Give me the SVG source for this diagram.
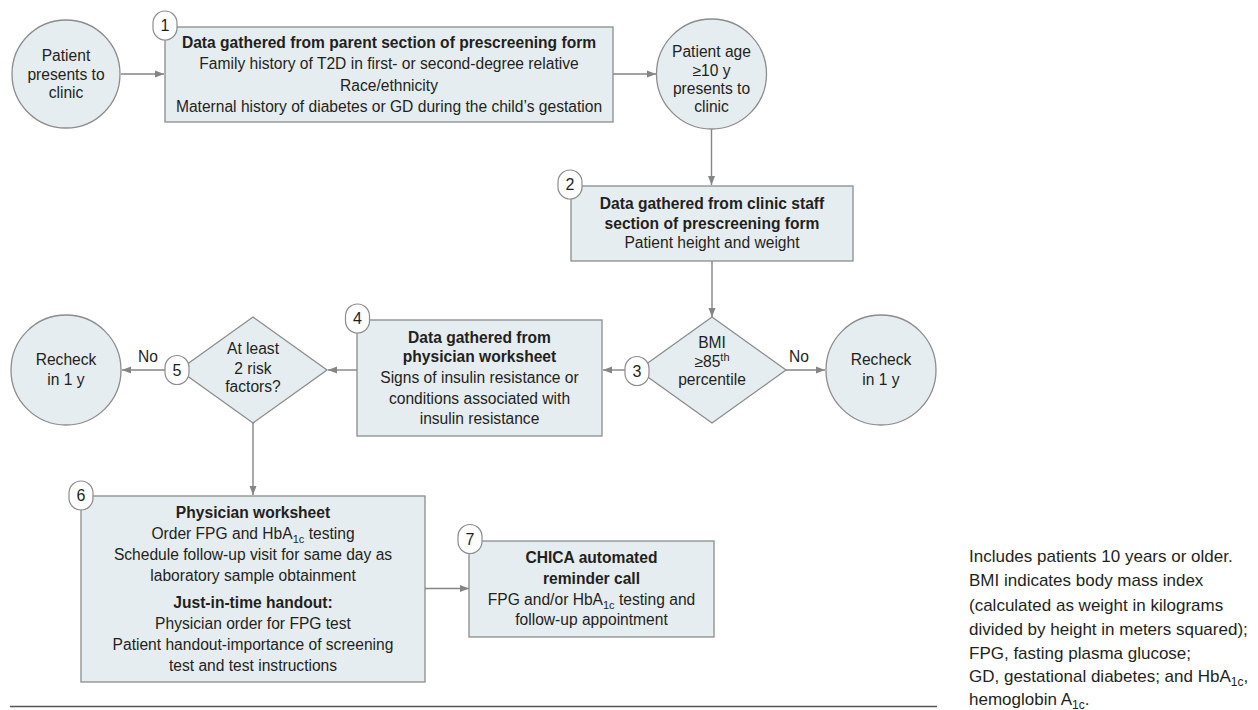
<svg xmlns="http://www.w3.org/2000/svg" width="1258" height="710" viewBox="0 0 1258 710">
<style>
text{font-family:"Liberation Sans",Arial,sans-serif;fill:#231f20;font-size:15.6px}
.c{text-anchor:middle}
.b{font-weight:bold}
.box{fill:#e6edf1;stroke:#8c8c8c;stroke-width:1.3}
.badge{fill:#fff;stroke:#8c8c8c;stroke-width:1.2}
.num{font-size:16px;text-anchor:middle}
.con{stroke:#858585;stroke-width:1.4;fill:none}
.cap{font-size:17px}
</style>
<defs>
<marker id="ah" markerUnits="userSpaceOnUse" markerWidth="10" markerHeight="10" viewBox="0 0 10 10" refX="9" refY="5" orient="auto">
<path d="M0,1.5 L9,5 L0,8.5 Z" fill="#858585"/>
</marker>
</defs>

<g id="connectors">
<line class="con" x1="121" y1="74" x2="164" y2="74" marker-end="url(#ah)"/>
<line class="con" x1="613" y1="74" x2="656" y2="74" marker-end="url(#ah)"/>
<line class="con" x1="711.5" y1="129" x2="711.5" y2="185" marker-end="url(#ah)"/>
<line class="con" x1="712" y1="261" x2="712" y2="317" marker-end="url(#ah)"/>
<line class="con" x1="625" y1="370" x2="603" y2="370" marker-end="url(#ah)"/>
<line class="con" x1="786" y1="370" x2="825" y2="370" marker-end="url(#ah)"/>
<line class="con" x1="357" y1="370" x2="328" y2="370" marker-end="url(#ah)"/>
<line class="con" x1="165" y1="370" x2="122" y2="370" marker-end="url(#ah)"/>
<line class="con" x1="253" y1="423" x2="253" y2="495" marker-end="url(#ah)"/>
<line class="con" x1="425" y1="588.5" x2="469" y2="588.5" marker-end="url(#ah)"/>
<text x="799" y="362" class="c">No</text>
<text x="148" y="362" class="c">No</text>
</g>

<g id="start">
<circle class="box" cx="66" cy="74" r="54"/>
<text class="c" x="66" y="61">Patient</text>
<text class="c" x="66" y="80">presents to</text>
<text class="c" x="66" y="98">clinic</text>
</g>

<g id="node1">
<rect class="box" x="165" y="27" width="448" height="95"/>
<text class="c b" x="389" y="48">Data gathered from parent section of prescreening form</text>
<text class="c" x="389" y="69">Family history of T2D in first- or second-degree relative</text>
<text class="c" x="389" y="91">Race/ethnicity</text>
<text class="c" x="389" y="112">Maternal history of diabetes or GD during the child’s gestation</text>
<rect class="badge" x="153" y="11" width="24" height="29" rx="12"/>
<text class="num" x="165" y="31">1</text>
</g>

<g id="age">
<circle class="box" cx="711.5" cy="74" r="55"/>
<text class="c" x="711.5" y="57">Patient age</text>
<text class="c" x="711.5" y="76">≥10 y</text>
<text class="c" x="711.5" y="94">presents to</text>
<text class="c" x="711.5" y="112">clinic</text>
</g>

<g id="node2">
<rect class="box" x="571" y="186" width="282" height="75"/>
<text class="c b" x="712" y="209">Data gathered from clinic staff</text>
<text class="c b" x="712" y="229">section of prescreening form</text>
<text class="c" x="712" y="248">Patient height and weight</text>
<rect class="badge" x="558" y="170" width="24" height="29" rx="12"/>
<text class="num" x="570" y="190">2</text>
</g>

<g id="node3">
<polygon class="box" points="712,317 786,370 712,423 638,370"/>
<text class="c" x="712" y="348">BMI</text>
<text class="c" x="712" y="367">≥85<tspan dy="-6" font-size="11">th</tspan></text>
<text class="c" x="712" y="385">percentile</text>
<rect class="badge" x="625" y="356.5" width="24" height="29" rx="12"/>
<text class="num" x="637" y="376.5">3</text>
</g>

<g id="recheck-right">
<circle class="box" cx="881" cy="370" r="55"/>
<text class="c" x="881" y="365">Recheck</text>
<text class="c" x="881" y="385">in 1 y</text>
</g>

<g id="node4">
<rect class="box" x="357" y="320" width="245" height="116"/>
<text class="c b" x="479.5" y="343">Data gathered from</text>
<text class="c b" x="479.5" y="362">physician worksheet</text>
<text class="c" x="479.5" y="383">Signs of insulin resistance or</text>
<text class="c" x="479.5" y="404">conditions associated with</text>
<text class="c" x="479.5" y="424">insulin resistance</text>
<rect class="badge" x="345.5" y="304" width="24" height="29" rx="12"/>
<text class="num" x="357.5" y="324">4</text>
</g>

<g id="node5">
<polygon class="box" points="253,317 327,370 253,423 179,370"/>
<text class="c" x="253" y="354">At least</text>
<text class="c" x="253" y="374">2 risk</text>
<text class="c" x="253" y="392">factors?</text>
<rect class="badge" x="165" y="355.5" width="24" height="29" rx="12"/>
<text class="num" x="177" y="375.5">5</text>
</g>

<g id="recheck-left">
<circle class="box" cx="66" cy="370" r="55"/>
<text class="c" x="66" y="365">Recheck</text>
<text class="c" x="66" y="385">in 1 y</text>
</g>

<g id="node6">
<rect class="box" x="81" y="496" width="344" height="186"/>
<text class="c b" x="253" y="518">Physician worksheet</text>
<text class="c" x="253" y="539">Order FPG and HbA<tspan dy="4" font-size="11">1c</tspan><tspan dy="-4"> testing</tspan></text>
<text class="c" x="253" y="560">Schedule follow-up visit for same day as</text>
<text class="c" x="253" y="581">laboratory sample obtainment</text>
<text class="c b" x="253" y="608">Just-in-time handout:</text>
<text class="c" x="253" y="629">Physician order for FPG test</text>
<text class="c" x="253" y="650">Patient handout-importance of screening</text>
<text class="c" x="253" y="671">test and test instructions</text>
<rect class="badge" x="69" y="481" width="24" height="29" rx="12"/>
<text class="num" x="81" y="501">6</text>
</g>

<g id="node7">
<rect class="box" x="469" y="541" width="245" height="96"/>
<text class="c b" x="591.5" y="563">CHICA automated</text>
<text class="c b" x="591.5" y="584">reminder call</text>
<text class="c" x="591.5" y="605">FPG and/or HbA<tspan dy="4" font-size="11">1c</tspan><tspan dy="-4"> testing and</tspan></text>
<text class="c" x="591.5" y="625">follow-up appointment</text>
<rect class="badge" x="458" y="524.5" width="24" height="29" rx="12"/>
<text class="num" x="470" y="544.5">7</text>
</g>

<g id="caption">
<line x1="10" y1="706.5" x2="937" y2="706.5" stroke="#555" stroke-width="1.6"/>
<text class="cap" x="969" y="562">Includes patients 10 years or older.</text>
<text class="cap" x="969" y="586">BMI indicates body mass index</text>
<text class="cap" x="969" y="611">(calculated as weight in kilograms</text>
<text class="cap" x="969" y="635">divided by height in meters squared);</text>
<text class="cap" x="969" y="659">FPG, fasting plasma glucose;</text>
<text class="cap" x="969" y="682">GD, gestational diabetes; and HbA<tspan dy="4" font-size="12">1c</tspan><tspan dy="-4">,</tspan></text>
<text class="cap" x="969" y="705">hemoglobin A<tspan dy="4" font-size="12">1c</tspan><tspan dy="-4">.</tspan></text>
</g>
</svg>
